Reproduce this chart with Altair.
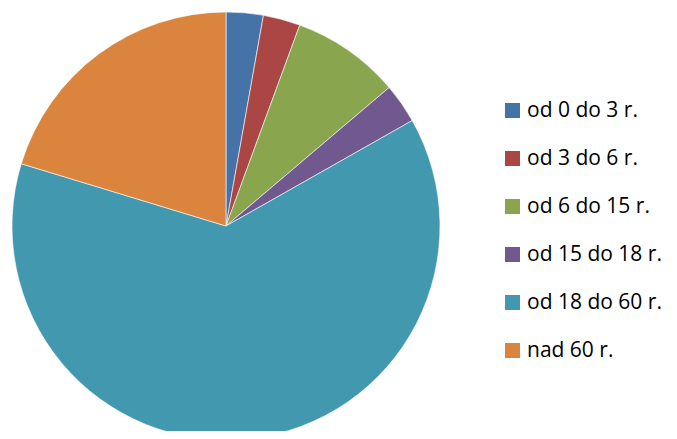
import altair as alt
import pandas as pd

categories = ["od 0 do 3 r.", "od 3 do 6 r.", "od 6 do 15 r.", "od 15 do 18 r.", "od 18 do 60 r.", "nad 60 r."]
values = [2.8, 2.8, 8.2, 3.0, 62.9, 20.3]
colors = ["#4572A7", "#AA4643", "#89A54E", "#71588F", "#4198AF", "#DB843D"]

df = pd.DataFrame({"kat": categories, "val": values, "ord": list(range(len(categories)))})

chart = alt.Chart(df).mark_arc(radius=214, stroke="white", strokeWidth=0.6).encode(
    theta=alt.Theta("val:Q", stack=True),
    order=alt.Order("ord:Q"),
    x=alt.value(218),
    y=alt.value(218),
    color=alt.Color(
        "kat:N",
        sort=categories,
        scale=alt.Scale(domain=categories, range=colors),
        legend=alt.Legend(
            title=None,
            orient="none",
            legendX=494,
            legendY=92,
            symbolType="square",
            symbolSize=225,
            symbolStrokeWidth=0,
            labelFont="Open Sans",
            labelFontSize=21,
            labelColor="black",
            rowPadding=26,
            labelOffset=4,
            labelLimit=300,
            padding=0,
        ),
    ),
).properties(
    width=661, height=423, autosize=alt.AutoSizeParams(type="none"), padding=0
).configure_view(stroke=None)

chart.save("out.html", embed_options={"renderer": "svg", "actions": False})
